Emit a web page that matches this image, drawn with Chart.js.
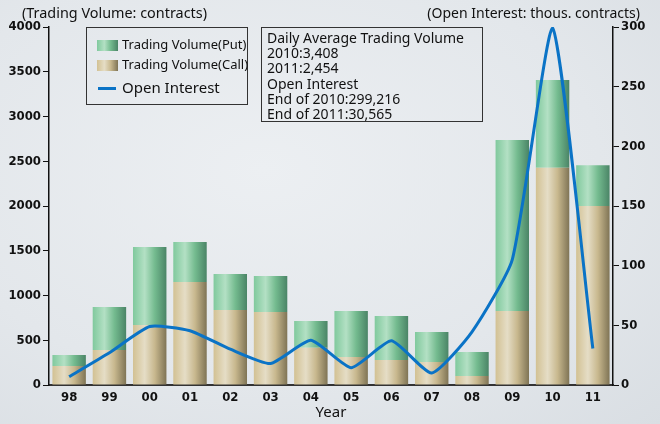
<!DOCTYPE html>
<html>
<head>
<meta charset="utf-8">
<script src="https://cdn.jsdelivr.net/npm/chart.js@4/dist/chart.umd.min.js"></script>
<style>
  html, body { margin: 0; padding: 0; }
  body { width: 660px; height: 424px; position: relative; overflow: hidden;
    background: radial-gradient(ellipse at 40% 40%, #eceff2 0%, #e3e7eb 60%, #d9dee3 100%);
    font-family: "Noto Sans", "DejaVu Sans", sans-serif; color: #111; }
  #wrap { position: absolute; left: 0; top: 0; width: 660px; height: 424px; }
  .t { position: absolute; white-space: nowrap; }
  #ltitle { left: 22px; top: 3px; font-size: 14.4px; }
  #rtitle { right: 20px; top: 3px; font-size: 14px; }
  #legend { position: absolute; left: 86px; top: 27px; width: 160px; height: 76px; border: 1px solid #333; }
  .sw { position: absolute; left: 10px; width: 21px; height: 11px; }
  #swPut { top: 12px; background: linear-gradient(to right, #80c99d, #b3e0c4 35%, #74bb8f 65%, #4a8466); }
  #swCall { top: 32px; background: linear-gradient(to right, #d2c193, #e5ddc6 35%, #c8b88e 65%, #7f7455); }
  #swLine { position: absolute; left: 11px; top: 59px; width: 18px; height: 3px; background: #0a73c6; }
  .lt { position: absolute; left: 35px; white-space: nowrap; font-family: "Noto Sans", sans-serif; font-size: 13px; }
  #info { position: absolute; left: 261px; top: 27px; width: 222px; height: 95px; border: 1px solid #333; font-size: 14px; line-height: 15.2px; padding: 2px 0 0 5px; box-sizing: border-box; white-space: nowrap; }
</style>
</head>
<body>
<div id="wrap"><canvas id="c" width="660" height="424"></canvas></div>
<div class="t" id="ltitle">(Trading Volume: contracts)</div>
<div class="t" id="rtitle">(Open Interest: thous. contracts)</div>
<div id="legend">
  <div class="sw" id="swPut"></div><div class="lt" style="top:7px">Trading Volume(Put)</div>
  <div class="sw" id="swCall"></div><div class="lt" style="top:27px">Trading Volume(Call)</div>
  <div id="swLine"></div><div class="lt" style="top:49px;font-size:15px">Open Interest</div>
</div>
<div id="info">Daily Average Trading Volume<br>2010:3,408<br>2011:2,454<br>Open Interest<br>End of 2010:299,216<br>End of 2011:30,565</div>
<script>
const years = ['98','99','00','01','02','03','04','05','06','07','08','09','10','11'];
const callVolume = [212, 391, 670, 1151, 838, 816, 417, 313, 280, 257, 100, 827, 2428, 2000];
const putVolume  = [123, 480, 872, 447, 402, 402, 298, 514, 491, 335, 269, 1910, 980, 454];
const openInterest = [7, 27, 49, 45.5, 30, 18, 37.5, 14.5, 37, 10, 44.5, 105, 299.2, 30.6];
const leftTicks = [0, 500, 1000, 1500, 2000, 2500, 3000, 3500, 4000];
const rightTicks = [0, 50, 100, 150, 200, 250, 300];

const BAR_PCT = 0.83;
function barGradient(ctx, stops) {
  const chart = ctx.chart;
  const xs = chart.scales.x;
  if (!xs || ctx.dataIndex === undefined) return stops[1][1];
  const cx = xs.getPixelForTick(ctx.dataIndex);
  const w = (xs.width / years.length) * BAR_PCT;
  if (!isFinite(cx) || !isFinite(w) || w <= 0) return stops[1][1];
  const g = chart.ctx.createLinearGradient(cx - w / 2, 0, cx + w / 2, 0);
  stops.forEach(s => g.addColorStop(s[0], s[1]));
  return g;
}
const greenStops = [[0, '#80c99d'], [0.35, '#b3e0c4'], [0.65, '#74bb8f'], [1, '#4a8466']];
const beigeStops = [[0, '#d2c193'], [0.35, '#e5ddc6'], [0.65, '#c8b88e'], [1, '#7f7455']];

const tickFont = { family: "'DejaVu Sans Condensed', 'Liberation Sans Narrow', sans-serif", size: 13, weight: 'bold' };

new Chart(document.getElementById('c'), {
  data: {
    labels: years,
    datasets: [
      { type: 'line', label: 'Open Interest', data: openInterest, yAxisID: 'y2',
        borderColor: '#0a73c6', borderWidth: 3, pointRadius: 0, tension: 0.18, fill: false, order: 0 },
      { type: 'bar', label: 'Trading Volume(Call)', data: callVolume, yAxisID: 'y', stack: 's',
        backgroundColor: c => barGradient(c, beigeStops), borderWidth: 0,
        barPercentage: BAR_PCT, categoryPercentage: 1, order: 1 },
      { type: 'bar', label: 'Trading Volume(Put)', data: putVolume, yAxisID: 'y', stack: 's',
        backgroundColor: c => barGradient(c, greenStops), borderWidth: 0,
        barPercentage: BAR_PCT, categoryPercentage: 1, order: 1 }
    ]
  },
  options: {
    responsive: false,
    animation: false,
    layout: { padding: { top: 27, left: 0, right: 0, bottom: 0 } },
    plugins: { legend: { display: false }, tooltip: { enabled: false }, title: { display: false } },
    scales: {
      x: {
        stacked: true,
        grid: { display: false, drawTicks: false },
        border: { display: true, color: '#333', width: 2 },
        ticks: { color: '#111', font: tickFont, padding: 5 },
        title: { display: true, text: 'Year', color: '#111',
          font: { family: "'Noto Sans', sans-serif", size: 15 }, padding: { top: 0, bottom: 2 } },
        afterFit: s => { s.height = 39; }
      },
      y: {
        position: 'left', stacked: true, min: 0, max: 4000,
        afterBuildTicks: s => { s.ticks = leftTicks.map(v => ({ value: v })); },
        grid: { drawOnChartArea: false, drawTicks: true, tickLength: 6, color: '#111', tickColor: '#111' },
        border: { display: true, color: '#111', width: 1.5 },
        ticks: { color: '#111', font: tickFont, padding: 2, callback: v => String(v) },
        afterFit: s => { s.width = 49; }
      },
      y2: {
        position: 'right', min: 0, max: 300,
        afterBuildTicks: s => { s.ticks = rightTicks.map(v => ({ value: v })); },
        grid: { drawOnChartArea: false, drawTicks: true, tickLength: 6, color: '#111', tickColor: '#111' },
        border: { display: true, color: '#111', width: 1.5 },
        ticks: { color: '#111', font: tickFont, padding: 2, callback: v => String(v) },
        afterFit: s => { s.width = 47; }
      }
    }
  }
});
</script>
</body>
</html>
